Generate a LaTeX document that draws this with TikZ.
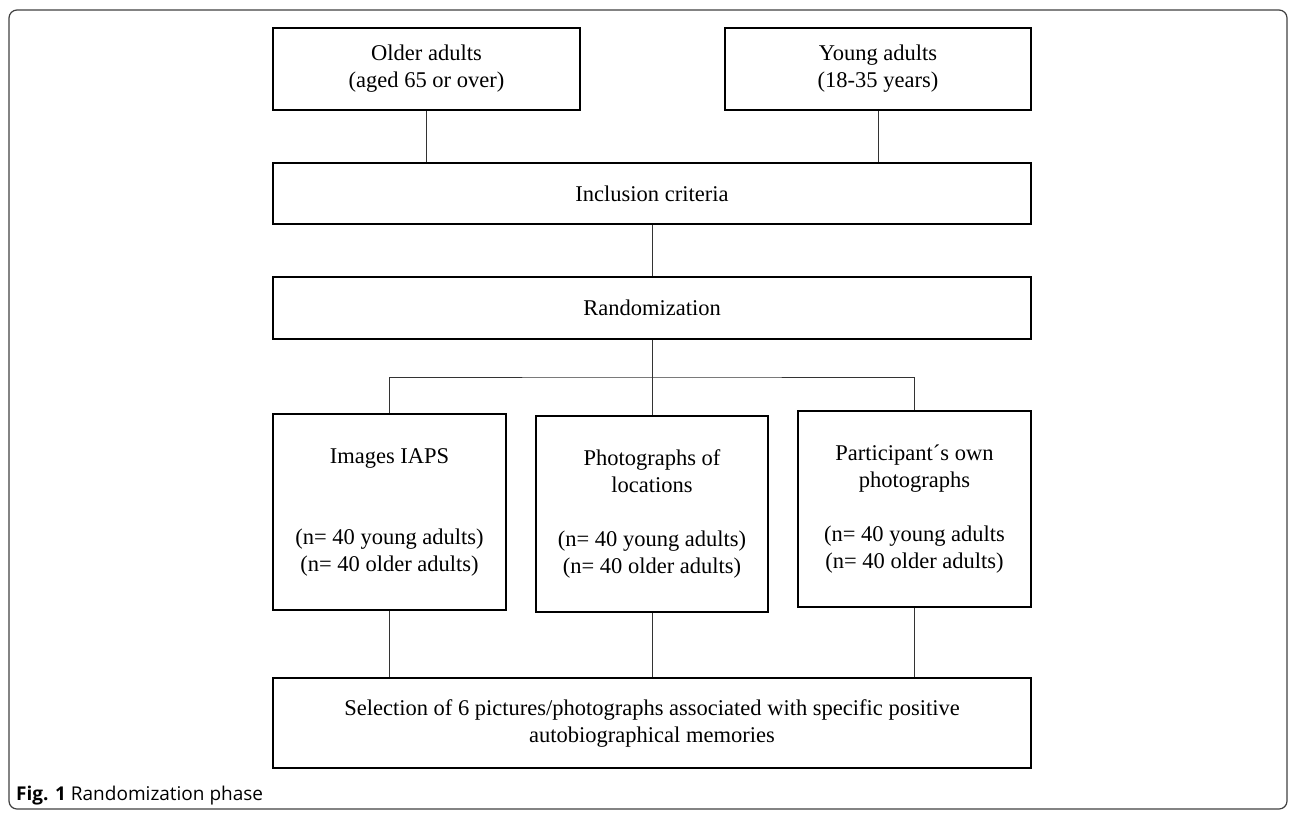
\documentclass[tikz,border=0pt]{standalone}
\usepackage{fontspec}
\setmainfont{Liberation Serif}
\newfontfamily\captionfont{Open Sans}
\usepackage{tikz}

\begin{document}
\begin{tikzpicture}[x=1pt, y=-1pt,
  font=\fontsize{22.5}{27}\selectfont,
  stage/.style={draw, line width=2.5pt, inner sep=0pt, align=center},
  link/.style={draw=black!80, line width=1pt}]
  \useasboundingbox (0,0) rectangle (1290,812);
  \draw[black!75, line width=1.2pt, rounded corners=8pt] (9,10) rectangle (1287,809);
  % participant groups
  \node[stage, minimum width=307pt, minimum height=82pt] (older) at (426.5,69) {Older adults\\(aged 65 or over)};
  \node[stage, minimum width=306pt, minimum height=82pt] (young) at (878,69) {Young adults\\(18-35 years)};
  \node[stage, minimum width=758pt, minimum height=61pt] (incl) at (652,193.5) {Inclusion criteria};
  \node[stage, minimum width=758pt, minimum height=62pt] (rand) at (652,308) {Randomization};
  % conditions
  \node[stage, minimum width=233pt, minimum height=196pt] (iaps) at (389.5,512) {Images IAPS\\[54pt](n= 40 young adults)\\(n= 40 older adults)};
  \node[stage, minimum width=232pt, minimum height=196pt] (places) at (652,514) {Photographs of\\locations\\[27pt](n= 40 young adults)\\(n= 40 older adults)};
  \node[stage, minimum width=233pt, minimum height=196pt] (own) at (914.5,509) {Participant´s own\\photographs\\[27pt](n= 40 young adults\\(n= 40 older adults)};
  \node[stage, minimum width=758pt, minimum height=90pt] (select) at (652,723) {Selection of 6 pictures/photographs associated with specific positive\\autobiographical memories};
  \coordinate (split) at (rand.south |- 0,377);
  % connectors
  \draw[link] (older.south) -- (older.south |- incl.north);
  \draw[link] (young.south) -- (young.south |- incl.north);
  \draw[link] (incl.south) -- (rand.north);
  \draw[link] (rand.south) -- (places.north);
  \draw[link] (iaps.north) |- (split) -| (own.north);
  \draw[link] (iaps.south) -- (iaps.south |- select.north);
  \draw[link] (places.south) -- (places.south |- select.north);
  \draw[link] (own.south) -- (own.south |- select.north);
  \node[anchor=base west, inner sep=0pt, font=\captionfont\fontsize{19}{22}\selectfont] (caption) at (16,800) {\textbf{Fig. 1} Randomization phase};
\end{tikzpicture}
\end{document}
